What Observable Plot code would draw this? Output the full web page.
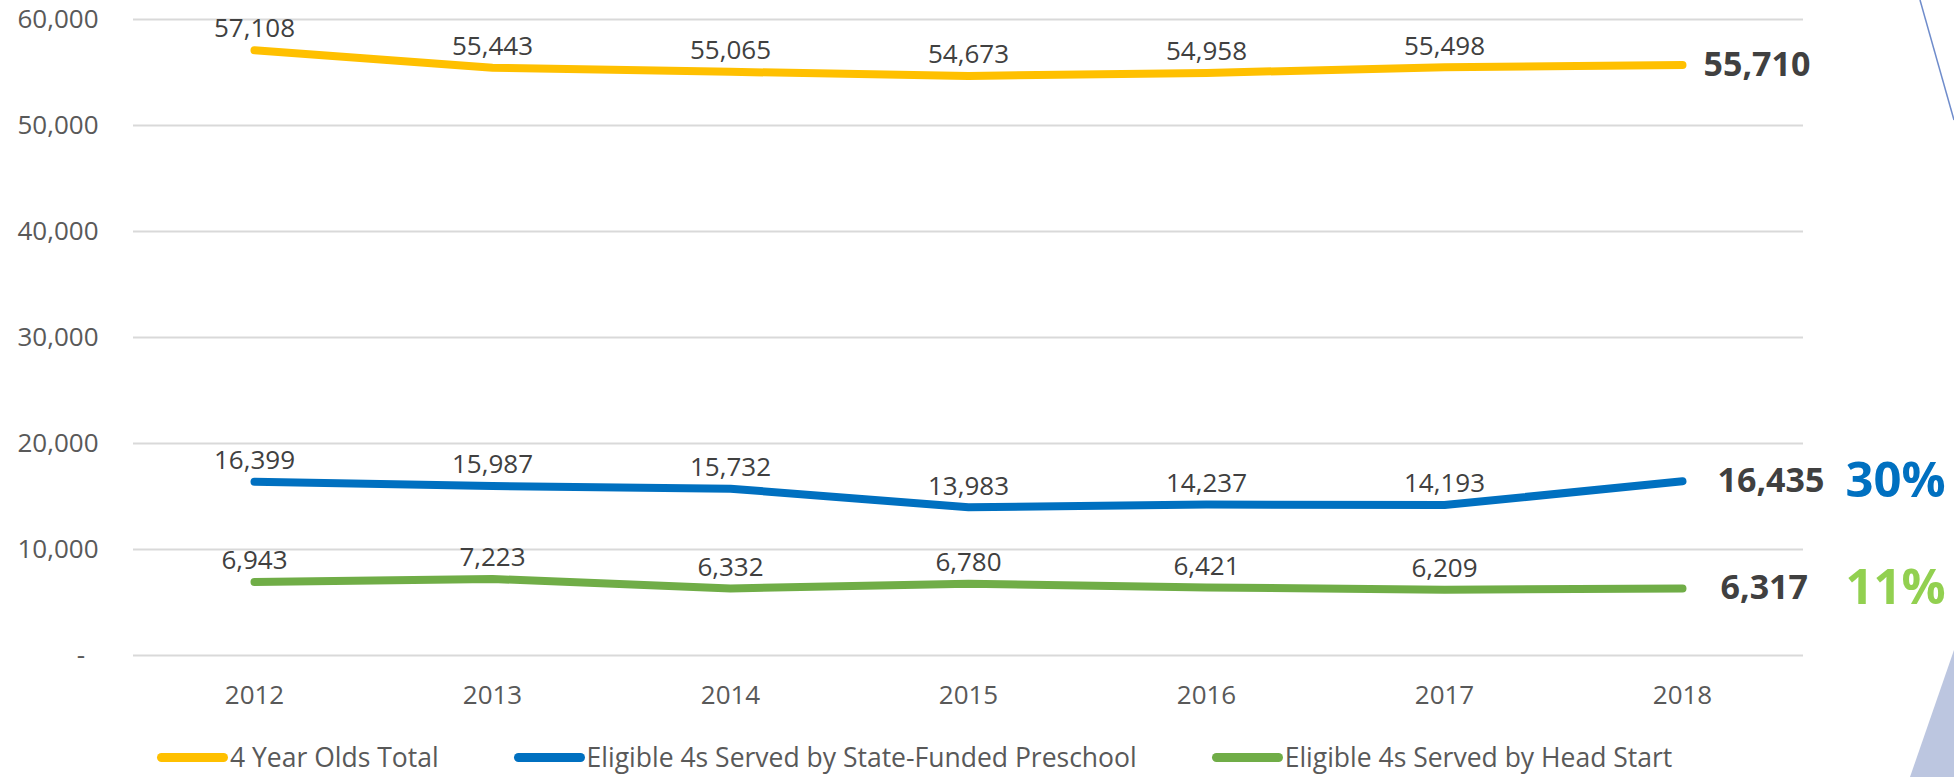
<!DOCTYPE html>
<html>
<head>
<meta charset="utf-8">
<script src="https://cdn.jsdelivr.net/npm/d3@7"></script>
<script src="https://cdn.jsdelivr.net/npm/@observablehq/plot@0.6"></script>
<style>
  html, body { margin: 0; padding: 0; background: #ffffff; }
  body { width: 1954px; height: 777px; position: relative; overflow: hidden; font-family: "Open Sans", sans-serif; }
  #chart svg { display: block; }
  #legend { display: flex; align-items: center; height: 40px; padding-left: 157px; gap: 75px;
            font-family: "Open Sans", sans-serif; font-size: 26.5px; color: #595959; white-space: nowrap; }
  .item { display: flex; align-items: center; }
  .swatch { display: inline-block; width: 71px; height: 9px; border-radius: 5px; margin-right: 2px; }
  #deco { position: absolute; left: 0; top: 0; pointer-events: none; }
</style>
</head>
<body>
<div id="chart"></div>
<div id="legend"></div>
<svg id="deco" width="1954" height="777">
  <line x1="1920" y1="0" x2="1954" y2="120" stroke="#6F8CCB" stroke-width="1.5"/>
  <polygon points="1954,650 1910,777 1954,777" fill="#BCC6E0"/>
</svg>
<script>
// ---- data ----
const years = [2012, 2013, 2014, 2015, 2016, 2017, 2018];
const totalValues = [57108, 55443, 55065, 54673, 54958, 55498, 55710];
const stateValues = [16399, 15987, 15732, 13983, 14237, 14193, 16435];
const headStartValues = [6943, 7223, 6332, 6780, 6421, 6209, 6317];
const seriesNames = [
  "4 Year Olds Total",
  "Eligible 4s Served by State-Funded Preschool",
  "Eligible 4s Served by Head Start"
];
const yTicks = [0, 10000, 20000, 30000, 40000, 50000, 60000];

// ---- styles ----
const seriesColors = ["#FFC000", "#0070C0", "#70AD47"];
const shareColors = ["#0070C0", "#92D050"];
const endLabelDx = [21, 35, 38];

const seriesValues = [totalValues, stateValues, headStartValues];
const rows = [];
seriesNames.forEach((name, i) => {
  years.forEach((yr, j) => rows.push({series: name, year: yr, value: seriesValues[i][j]}));
});
const lastYear = years[years.length - 1];
const lastRows = rows.filter(d => d.year === lastYear);
const totalLast = totalValues[totalValues.length - 1];
const shareRows = lastRows.slice(1).map(d => ({...d, label: Math.round(d.value / totalLast * 100) + "%"}));

const fmt = d3.format(",");
const H = 737;

const chart = Plot.plot({
  width: 1954,
  height: H,
  marginLeft: 133,
  marginRight: 151,
  marginTop: 19,
  marginBottom: H - 655,
  x: {type: "point", domain: years, padding: 0.5},
  y: {domain: [0, 60000]},
  color: {domain: seriesNames, range: seriesColors},
  style: {fontFamily: "'Open Sans', sans-serif", background: "#ffffff", overflow: "visible"},
  marks: [
    Plot.gridY(yTicks, {stroke: "#D9D9D9", strokeOpacity: 1, strokeWidth: 2}),
    Plot.axisY(yTicks, {
      tickSize: 0, tickPadding: 35, fontSize: 26, fill: "#595959", label: null,
      tickFormat: d => d === 0 ? "-\u00a0\u00a0" : fmt(d)
    }),
    Plot.axisX({tickSize: 0, tickPadding: 30, fontSize: 26, fill: "#595959", label: null, tickFormat: d => String(d)}),
    Plot.line(rows, {
      x: "year", y: "value", z: "series", stroke: "series",
      strokeWidth: 8, strokeLinecap: "round", strokeLinejoin: "round"
    }),
    Plot.text(rows.filter(d => d.year !== lastYear), {
      x: "year", y: "value", text: d => fmt(d.value), dy: -21,
      fontSize: 26, fill: "#404040"
    }),
    ...lastRows.map((r, i) => Plot.text([r], {
      x: "year", y: "value", text: d => fmt(d.value), textAnchor: "start", dx: endLabelDx[i],
      fontSize: 34, fontWeight: "bold", fill: "#404040"
    })),
    ...shareRows.map((r, i) => Plot.text([r], {
      x: "year", y: "value", text: "label", textAnchor: "start", dx: 163,
      fontSize: 49, fontWeight: "bold", fill: shareColors[i]
    }))
  ]
});
document.getElementById("chart").appendChild(chart);

// legend
const legend = document.getElementById("legend");
seriesNames.forEach((name, i) => {
  const item = document.createElement("div");
  item.className = "item";
  const sw = document.createElement("span");
  sw.className = "swatch";
  sw.style.background = seriesColors[i];
  const label = document.createElement("span");
  label.textContent = name;
  item.appendChild(sw);
  item.appendChild(label);
  legend.appendChild(item);
});
</script>
</body>
</html>
